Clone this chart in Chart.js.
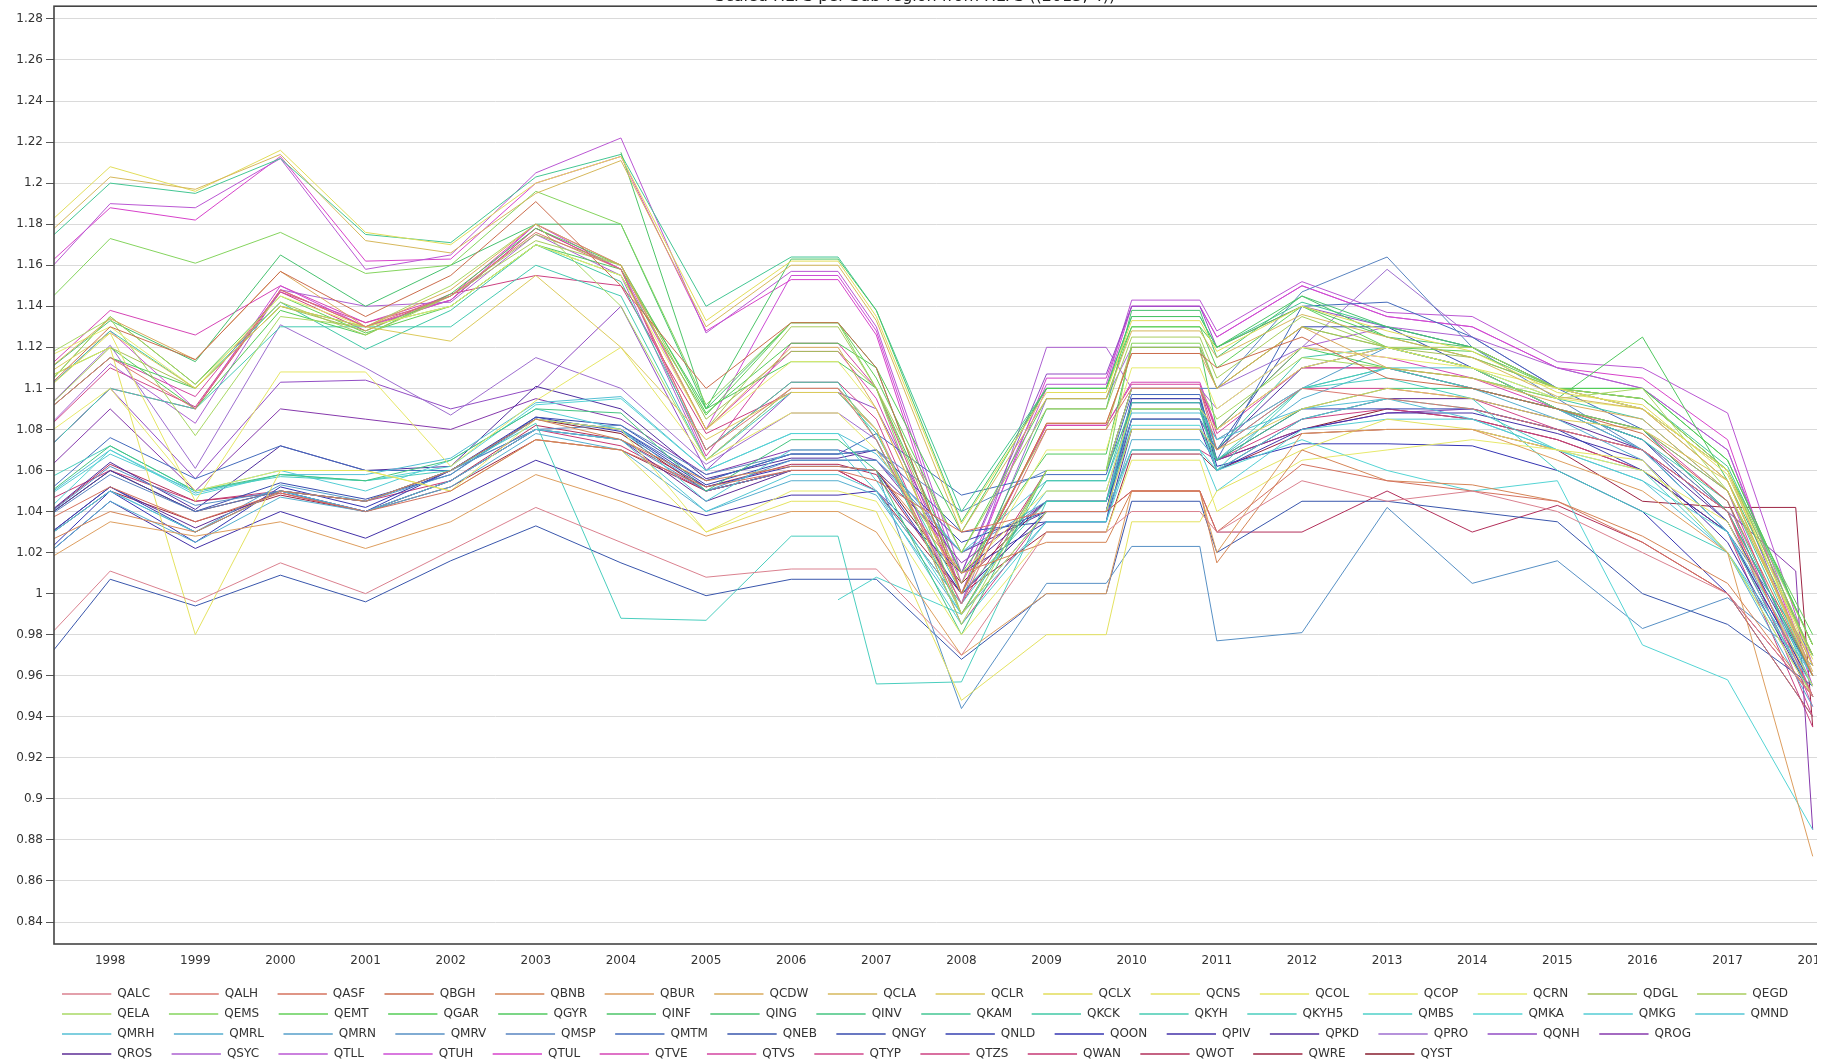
<!DOCTYPE html>
<html>
<head>
<meta charset="utf-8">
<script src="https://cdn.jsdelivr.net/npm/chart.js@4.4.1/dist/chart.umd.min.js"></script>
<style>
  html, body { margin: 0; padding: 0; background: #fff; overflow: hidden; }
  #clip { position: absolute; left: 0; top: -15px; width: 1817px; height: 1085px; overflow: hidden; }
  #box { position: relative; width: 1830px; height: 1085px; }
</style>
</head>
<body>
<div id="clip"><div id="box"><canvas id="myChart"></canvas></div></div>
<script>
var chartTitle = 'Scaled HLFS per Sub-region from HLFS ((2015, 4))';

// x positions of the samples (fractional ones are the mid-year steps)
var years = [1997, 1998, 1999, 2000, 2001, 2002, 2003, 2004, 2005, 2006, 2006.55, 2007, 2008,
             2009, 2009.7, 2010, 2010.8, 2011, 2012, 2013, 2014, 2015, 2016, 2017, 2017.8, 2018];
var xTickYears = [1998, 1999, 2000, 2001, 2002, 2003, 2004, 2005, 2006, 2007, 2008,
                  2009, 2010, 2011, 2012, 2013, 2014, 2015, 2016, 2017, 2018];
var yTickValues = [0.84, 0.86, 0.88, 0.9, 0.92, 0.94, 0.96, 0.98, 1, 1.02, 1.04, 1.06,
                   1.08, 1.1, 1.12, 1.14, 1.16, 1.18, 1.2, 1.22, 1.24, 1.26, 1.28];

var QALC = [0.967,1.011,0.996,1.015,1.000, 1.021,1.042,1.025,1.008,1.012, 1.012,1.012,0.970,1.030,1.030, 1.040,1.040,1.030,1.055,1.045, 1.050,1.040,1.020,1.000,null, 0.950];
var QALH = [1.080,1.115,1.090,1.148,1.130, 1.145,1.176,1.158,1.070,1.100, 1.100,1.075,0.995,1.080,1.080, 1.100,1.100,1.070,1.100,1.095, 1.090,1.080,1.070,1.040,null, 0.950];
var QASF = [1.030,1.052,1.035,1.049,1.040, 1.050,1.075,1.070,1.052,1.060, 1.060,1.055,1.030,1.040,1.040, 1.050,1.050,1.030,1.063,1.055, 1.050,1.045,1.025,1.000,null, 0.940];
var QBGH = [1.090,1.130,1.114,1.157,1.135, 1.155,1.191,1.150,1.100,1.132, 1.132,1.110,1.000,1.083,1.083, 1.117,1.117,1.110,1.125,1.105, 1.100,1.090,1.078,1.045,null, 0.960];
var QBNB = [1.020,1.040,1.030,1.050,1.045, 1.060,1.085,1.075,1.055,1.062, 1.062,1.060,1.010,1.025,1.025, 1.050,1.050,1.015,1.070,1.055, 1.053,1.045,1.028,1.005,null, 0.950];
var QBUR = [1.010,1.035,1.028,1.035,1.022, 1.035,1.058,1.045,1.028,1.040, 1.040,1.030,0.970,1.000,1.000, 1.050,1.050,1.020,1.078,1.080, 1.080,1.065,1.050,1.020,null, 0.872];
var QCDW = [1.100,1.134,1.114,1.157,1.130, 1.148,1.180,1.160,1.080,1.120, 1.120,1.090,1.000,1.083,1.083, 1.117,1.117,1.100,1.130,1.110, 1.105,1.093,1.085,1.050,null, 0.965];
var QCLA = [1.165,1.203,1.197,1.214,1.172, 1.166,1.195,1.211,1.130,1.160, 1.160,1.133,1.030,1.095,1.095, 1.128,1.128,1.115,1.136,1.125, 1.115,1.096,1.090,1.055,null, 0.962];
var QCLR = [1.100,1.127,1.100,1.140,1.130, 1.123,1.155,1.120,1.075,1.098, 1.098,1.080,0.990,1.040,1.040, 1.080,1.080,1.070,1.090,1.100, 1.095,1.085,1.080,1.055,null, 0.960];
var QCLX = [1.170,1.208,1.196,1.216,1.176, 1.170,1.200,1.213,1.133,1.162, 1.162,1.135,1.034,1.098,1.098, 1.133,1.133,1.118,1.140,1.128, 1.118,1.098,1.092,1.058,null, 0.968];
var QCNS = [1.100,1.120,0.980,1.060,1.060, 1.050,1.075,1.070,1.030,1.045, 1.045,1.040,0.948,0.980,0.980, 1.035,1.035,1.050,1.070,1.085, 1.080,1.070,1.065,1.020,null, 0.950];
var QCOL = [1.090,1.127,1.045,1.108,1.108, 1.062,1.094,1.120,1.065,1.088, 1.088,1.070,1.010,1.050,1.050, 1.090,1.090,1.080,1.110,1.120, 1.110,1.100,1.090,1.060,null, 0.965];
var QCOP = [1.070,1.100,1.050,1.060,1.060, 1.050,1.085,1.080,1.030,1.050, 1.050,1.045,0.980,1.030,1.030, 1.065,1.065,1.040,1.065,1.070, 1.075,1.070,1.060,1.035,null, 0.955];
var QCRN = [1.110,1.130,1.100,1.145,1.130, 1.140,1.170,1.155,1.080,1.113, 1.113,1.090,1.000,1.070,1.070, 1.110,1.110,1.090,1.120,1.115, 1.110,1.095,1.090,1.055,null, 0.960];
var QDGL = [1.080,1.120,1.100,1.140,1.128, 1.145,1.175,1.160,1.085,1.118, 1.118,1.100,1.005,1.080,1.080, 1.120,1.120,1.100,1.130,1.120, 1.115,1.100,1.090,1.060,null, 0.970];
var QEGD = [1.090,1.135,1.102,1.142,1.126, 1.145,1.172,1.160,1.080,1.130, 1.130,1.100,1.020,1.090,1.090, 1.125,1.125,1.105,1.135,1.120, 1.120,1.100,1.095,1.060,null, 0.975];
var QELA = [1.110,1.134,1.077,1.135,1.130, 1.150,1.180,1.140,1.065,1.100, 1.100,1.080,0.985,1.060,1.060, 1.100,1.100,1.085,1.115,1.110, 1.105,1.095,1.100,1.050,null, 0.965];
var QEMS = [1.131,1.173,1.161,1.176,1.156, 1.160,1.196,1.180,1.092,1.132, 1.132,1.100,0.990,1.060,1.060, 1.122,1.122,1.100,1.130,1.120, 1.110,1.090,1.080,1.050,null, 0.970];
var QEMT = [1.090,1.135,1.102,1.145,1.127, 1.140,1.170,1.155,1.087,1.132, 1.132,1.105,1.020,1.095,1.095, 1.130,1.130,1.110,1.140,1.120, 1.118,1.100,1.095,1.060,null, 0.980];
var QGAR = [1.100,1.120,1.090,1.138,1.126, 1.146,1.178,1.160,1.088,1.122, 1.122,1.110,1.030,1.100,1.100, 1.130,1.130,1.120,1.140,1.125, 1.115,1.100,1.100,1.065,null, 0.975];
var QGYR = [1.080,1.115,1.100,1.140,1.130, 1.140,1.170,1.158,1.090,1.113, 1.113,1.100,1.010,1.068,1.068, 1.120,1.120,1.080,1.120,1.110, 1.105,1.095,1.125,1.055,null, 0.970];
var QINF = [null,null,null,null,null, null,null,1.215,1.090,1.163, 1.163,1.138,1.035,1.100,1.100, 1.135,1.135,1.120,1.145,1.125, 1.120,1.100,1.100,1.065,null, 0.975];
var QING = [1.100,1.133,1.113,1.165,1.140, 1.160,1.180,1.180,1.090,1.132, 1.132,1.110,1.000,1.090,1.090, 1.138,1.138,1.115,1.145,1.130, 1.120,1.100,1.095,1.060,null, 0.970];
var QINV = [1.040,1.072,1.050,1.058,1.055, 1.065,1.090,1.088,1.050,1.075, 1.075,1.060,0.980,1.060,1.060, 1.090,1.090,1.065,1.090,1.100, 1.100,1.090,1.080,1.040,null, 0.960];
var QKAM = [1.162,1.200,1.195,1.212,1.175, 1.171,1.203,1.214,1.140,1.164, 1.164,1.138,1.040,1.100,1.100, 1.135,1.135,1.120,1.142,1.130, 1.120,1.100,1.095,1.062,null, 0.975];
var QKCK = [1.090,1.128,1.100,1.142,1.119, 1.138,1.170,1.152,1.070,1.103, 1.103,1.075,0.990,1.055,1.055, 1.093,1.093,1.070,1.115,1.120, 1.110,1.095,1.085,1.050,null, 0.960];
var QKYH = [1.060,1.100,1.090,1.130,1.130, 1.130,1.160,1.145,1.065,1.098, 1.098,1.078,1.000,1.045,1.045, 1.080,1.080,1.065,1.100,1.110, 1.100,1.090,1.075,1.045,null, 0.955];
var QKYH5 = [1.050,1.072,1.050,1.057,1.055, 1.060,1.083,0.988,0.987,1.028, 1.028,0.956,0.957,1.045,1.045, 1.090,1.090,1.060,1.100,1.105, 1.095,1.060,1.040,1.020,null, 0.950];
var QMBS = [null,null,null,null,null, null,null,null,null,null, 0.997,1.008,0.990,1.040,1.040, 1.070,1.070,1.060,1.085,1.095, 1.090,1.070,1.060,1.020,null, 0.955];
var QMKA = [1.030,1.070,1.048,1.058,1.055, 1.062,1.092,1.095,1.060,1.078, 1.078,1.055,0.990,1.040,1.040, 1.082,1.082,1.060,1.075,1.060, 1.050,1.055,0.975,0.958,null, 0.885];
var QMKG = [1.040,1.068,1.050,1.060,1.050, 1.065,1.090,1.080,1.045,1.070, 1.070,1.050,0.985,1.035,1.035, 1.070,1.070,1.050,1.080,1.085, 1.085,1.070,1.055,1.030,null, 0.950];
var QMND = [1.020,1.050,1.030,1.050,1.040, 1.055,1.080,1.075,1.040,1.058, 1.058,1.050,0.995,1.050,1.050, 1.090,1.090,1.075,1.100,1.110, 1.110,1.090,1.070,1.030,null, 0.960];
var QMRH = [1.040,1.070,1.049,1.058,1.058, 1.066,1.093,1.096,1.060,1.078, 1.078,1.068,1.020,1.055,1.055, 1.088,1.088,1.075,1.090,1.095, 1.085,1.070,1.055,1.020,null, 0.960];
var QMRL = [1.010,1.045,1.025,1.047,1.040, 1.052,1.078,1.070,1.040,1.055, 1.055,1.048,0.990,1.035,1.035, 1.075,1.075,1.065,1.095,1.110, 1.100,1.085,1.065,1.020,null, 0.945];
var QMRN = [1.020,1.050,1.030,1.053,1.045, 1.058,1.085,1.080,1.050,1.065, 1.065,1.065,1.020,1.045,1.045, 1.085,1.085,1.070,1.100,1.120, 1.110,1.090,1.075,1.040,null, 0.960];
var QMRV = [1.030,1.062,1.043,1.050,1.045, 1.060,1.080,1.075,1.050,1.060, 1.060,1.060,0.944,1.005,1.005, 1.023,1.023,0.977,0.981,1.042, 1.005,1.016,0.983,0.998,null, 0.965];
var QMSP = [1.030,1.058,1.040,1.050,1.045, 1.060,1.080,1.082,1.058,1.068, 1.068,1.070,1.040,1.060,1.060, 1.100,1.100,1.100,1.147,1.164, 1.120,1.095,1.070,1.030,null, 0.970];
var QMTM = [1.040,1.076,1.056,1.072,1.060, 1.060,1.085,1.080,1.055,1.068, 1.068,1.078,1.048,1.058,1.058, 1.097,1.097,1.065,1.140,1.142, 1.125,1.100,1.080,1.040,null, 0.960];
var QNEB = [0.955,1.007,0.994,1.009,0.996, 1.016,1.033,1.015,0.999,1.007, 1.007,1.007,0.968,1.000,1.000, 1.045,1.045,1.020,1.045,1.045, 1.040,1.035,1.000,0.985,null, 0.955];
var QNGY = [1.030,1.060,1.040,1.054,1.046, 1.058,1.086,1.082,1.055,1.068, 1.068,1.070,1.030,1.035,1.035, 1.095,1.095,1.070,1.130,1.130, 1.110,1.090,1.075,1.035,null, 0.960];
var QNLD = [1.020,1.052,1.030,1.050,1.040, 1.060,1.085,1.080,1.053,1.065, 1.065,1.065,1.025,1.040,1.040, 1.090,1.090,1.065,1.090,1.090, 1.090,1.080,1.060,1.030,null, 0.955];
var QOON = [1.010,1.050,1.025,1.052,1.042, 1.060,1.086,1.079,1.052,1.062, 1.062,1.060,1.000,1.040,1.040, 1.093,1.093,1.062,1.073,1.073, 1.072,1.060,1.040,1.000,null, 0.940];
var QPIV = [1.010,1.045,1.022,1.040,1.027, 1.045,1.065,1.050,1.038,1.048, 1.048,1.050,1.010,1.035,1.035, 1.080,1.080,1.060,1.080,1.088, 1.088,1.078,1.065,1.025,null, 0.950];
var QPKD = [1.030,1.064,1.041,1.072,1.060, 1.062,1.101,1.090,1.056,1.066, 1.066,1.070,1.010,1.045,1.045, 1.085,1.085,1.070,1.110,1.120, 1.110,1.090,1.070,1.030,null, 0.955];
var QPRO = [1.080,1.121,1.061,1.131,1.110, 1.087,1.115,1.100,1.063,1.088, 1.088,1.075,0.995,1.095,1.095, 1.120,1.120,1.100,1.120,1.158, 1.125,1.100,1.090,1.055,null, 0.960];
var QQNH = [1.060,1.100,1.056,1.103,1.104, 1.090,1.100,1.140,1.060,1.098, 1.098,1.090,1.010,1.107,1.107, 1.140,1.140,1.120,1.140,1.130, 1.120,1.100,1.090,1.060,null, 0.960];
var QROG = [1.050,1.090,1.050,1.090,1.085, 1.080,1.095,1.085,1.058,1.070, 1.070,1.065,1.015,1.045,1.045, 1.095,1.095,1.065,1.080,1.088, 1.090,1.080,1.070,1.040,1.011, 0.885];
var QROS = [1.020,1.052,1.032,1.050,1.040, 1.055,1.080,1.075,1.045,1.060, 1.060,1.060,1.020,1.040,1.040, 1.085,1.085,1.060,1.085,1.095, 1.095,1.085,1.070,1.035,null, 0.955];
var QSYC = [1.070,1.112,1.083,1.148,1.140, 1.142,1.175,1.155,1.065,1.100, 1.100,1.080,0.995,1.120,1.120, 1.100,1.100,1.090,1.120,1.130, 1.125,1.110,1.100,1.070,null, 0.965];
var QTLL = [1.145,1.190,1.188,1.212,1.158, 1.165,1.205,1.222,1.127,1.157, 1.157,1.130,1.010,1.102,1.102, 1.143,1.143,1.128,1.152,1.137, 1.135,1.113,1.110,1.088,null, 0.965];
var QTUH = [1.090,1.128,1.090,1.150,1.130, 1.143,1.180,1.158,1.080,1.155, 1.155,1.128,1.005,1.100,1.100, 1.140,1.140,1.125,1.150,1.135, 1.130,1.110,1.100,1.070,null, 0.960];
var QTUL = [1.150,1.188,1.182,1.213,1.162, 1.163,1.200,1.213,1.128,1.153, 1.153,1.126,1.000,1.105,1.105, 1.140,1.140,1.125,1.150,1.135, 1.130,1.110,1.105,1.075,null, 0.955];
var QTVE = [1.100,1.138,1.126,1.150,1.132, 1.145,1.180,1.160,1.080,1.118, 1.118,1.095,1.000,1.082,1.082, 1.103,1.103,1.080,1.120,1.115, 1.105,1.090,1.080,1.050,null, 0.950];
var QTVS = [1.080,1.115,1.096,1.147,1.132, 1.143,1.178,1.158,1.067,1.122, 1.122,1.100,1.000,1.082,1.082, 1.102,1.102,1.078,1.110,1.110, 1.100,1.090,1.080,1.045,null, 0.945];
var QTYP = [1.070,1.110,1.091,1.148,1.130, 1.143,1.178,1.158,1.070,1.103, 1.103,1.085,0.990,1.060,1.060, 1.100,1.100,1.075,1.100,1.100, 1.095,1.080,1.070,1.040,null, 0.940];
var QTZS = [1.060,1.100,1.090,1.147,1.128, 1.146,1.155,1.150,1.078,1.098, 1.098,1.080,0.985,1.040,1.040, 1.070,1.070,1.065,1.085,1.090, 1.085,1.075,1.060,1.030,null, 0.935];
var QWAN = [1.040,1.060,1.045,1.050,1.045, 1.055,1.080,1.072,1.050,1.060, 1.060,1.050,0.995,1.060,1.060, 1.100,1.100,1.080,1.110,1.110, 1.100,1.090,1.075,1.040,null, 0.950];
var QWOT = [1.030,1.063,1.045,1.049,1.040, 1.055,1.082,1.075,1.052,1.063, 1.063,1.058,1.000,1.040,1.040, 1.050,1.050,1.030,1.030,1.050, 1.030,1.043,1.025,1.000,null, 0.950];
var QWRE = [1.020,1.050,1.035,1.048,1.040, 1.052,1.075,1.070,1.050,1.060, 1.060,1.050,1.000,1.030,1.030, 1.068,1.068,1.060,1.078,1.080, 1.080,1.070,1.045,1.042,1.042, 0.935];
var QYST = [1.030,1.060,1.040,1.050,1.045, 1.060,1.085,1.078,1.050,1.060, 1.060,1.060,1.005,1.045,1.045, 1.080,1.080,1.065,1.080,1.090, 1.085,1.075,1.060,1.030,null, 0.950];

var seriesNames = ['QALC','QALH','QASF','QBGH','QBNB','QBUR','QCDW','QCLA','QCLR','QCLX','QCNS','QCOL',
  'QCOP','QCRN','QDGL','QEGD','QELA','QEMS','QEMT','QGAR','QGYR','QINF','QING','QINV','QKAM','QKCK',
  'QKYH','QKYH5','QMBS','QMKA','QMKG','QMND','QMRH','QMRL','QMRN','QMRV','QMSP','QMTM','QNEB','QNGY',
  'QNLD','QOON','QPIV','QPKD','QPRO','QQNH','QROG','QROS','QSYC','QTLL','QTUH','QTUL','QTVE','QTVS',
  'QTYP','QTZS','QWAN','QWOT','QWRE','QYST'];
var seriesValues = [QALC,QALH,QASF,QBGH,QBNB,QBUR,QCDW,QCLA,QCLR,QCLX,QCNS,QCOL,
  QCOP,QCRN,QDGL,QEGD,QELA,QEMS,QEMT,QGAR,QGYR,QINF,QING,QINV,QKAM,QKCK,
  QKYH,QKYH5,QMBS,QMKA,QMKG,QMND,QMRH,QMRL,QMRN,QMRV,QMSP,QMTM,QNEB,QNGY,
  QNLD,QOON,QPIV,QPKD,QPRO,QQNH,QROG,QROS,QSYC,QTLL,QTUH,QTUL,QTVE,QTVS,
  QTYP,QTZS,QWAN,QWOT,QWRE,QYST];

// rainbow palette: [index, hue, sat, light]
var colorStops = [
  [0, 350, 55, 68], [1, 365, 60, 65], [3, 375, 55, 55], [5, 390, 65, 62], [7, 405, 60, 60],
  [9, 418, 70, 62], [13, 422, 75, 68], [14, 435, 45, 55], [16, 445, 60, 62], [18, 475, 55, 58],
  [22, 500, 50, 52], [25, 525, 55, 52], [29, 540, 60, 58], [32, 550, 60, 58], [36, 575, 45, 55],
  [38, 585, 50, 45], [41, 600, 55, 45], [43, 618, 55, 40], [44, 630, 50, 62], [46, 640, 50, 45],
  [47, 628, 55, 38], [48, 640, 55, 60], [51, 665, 65, 55], [54, 690, 60, 55], [56, 695, 55, 50],
  [59, 710, 65, 32]
];
function colorAt(i) {
  for (var k = 0; k < colorStops.length - 1; k++) {
    var a = colorStops[k], b = colorStops[k + 1];
    if (i >= a[0] && i <= b[0]) {
      var t = (i - a[0]) / (b[0] - a[0]);
      var h = (a[1] + (b[1] - a[1]) * t) % 360;
      var s = a[2] + (b[2] - a[2]) * t;
      var l = a[3] + (b[3] - a[3]) * t;
      return 'hsl(' + h.toFixed(1) + ',' + s.toFixed(1) + '%,' + l.toFixed(1) + '%)';
    }
  }
  return '#888';
}

var datasets = seriesNames.map(function (name, i) {
  var c = colorAt(i);
  return {
    label: name,
    data: years.map(function (x, j) { return { x: x, y: seriesValues[i][j] }; }),
    borderColor: c,
    backgroundColor: c,
    borderWidth: 1,
    pointRadius: 0,
    tension: 0,
    spanGaps: true
  };
});

var plotFrame = {
  id: 'plotFrame',
  afterDatasetsDraw: function (chart) {
    var a = chart.chartArea, ctx = chart.ctx;
    ctx.save();
    ctx.strokeStyle = '#444';
    ctx.lineWidth = 1.6;
    ctx.strokeRect(a.left, a.top, a.right - a.left, a.bottom - a.top);
    ctx.restore();
  }
};

var tickFont = { family: 'DejaVu Sans', size: 12 };

var config = {
  type: 'line',
  data: { datasets: datasets },
  options: {
    animation: false,
    responsive: true,
    maintainAspectRatio: false,
    layout: { padding: 0 },
    plugins: {
      title: {
        display: true,
        text: chartTitle,
        color: '#222',
        font: { family: 'DejaVu Sans', size: 16, weight: 'normal' },
        padding: { top: 2, bottom: 0 }
      },
      legend: {
        position: 'bottom',
        align: 'start',
        fullSize: false,
        labels: {
          boxWidth: 49.3,
          boxHeight: 1.5,
          padding: 8,
          color: '#333',
          font: { family: 'DejaVu Sans', size: 12 },
          generateLabels: function (chart) {
            return chart.data.datasets.map(function (ds, i) {
              return {
                text: ds.label + '   ',
                fillStyle: ds.borderColor,
                strokeStyle: ds.borderColor,
                lineWidth: 0,
                fontColor: '#333',
                hidden: false,
                datasetIndex: i
              };
            });
          }
        }
      },
      tooltip: { enabled: false }
    },
    scales: {
      x: {
        type: 'linear',
        min: 1997.34,
        max: 2018.08,
        grid: { display: false },
        border: { display: false },
        ticks: {
          color: '#333',
          font: tickFont,
          padding: 2,
          maxRotation: 0,
          autoSkip: false,
          callback: function (v) { return String(v); }
        },
        afterBuildTicks: function (scale) {
          scale.ticks = xTickYears.map(function (v) { return { value: v }; });
        },
        afterFit: function (scale) { scale.height = 36; }
      },
      y: {
        type: 'linear',
        min: 0.8293,
        max: 1.2862,
        grid: { color: '#dadada', tickColor: '#555', tickLength: 8, lineWidth: 1 },
        border: { display: false },
        ticks: {
          color: '#333',
          font: tickFont,
          padding: 3,
          autoSkip: false,
          callback: function (v) { return String(parseFloat(Number(v).toFixed(2))); }
        },
        afterBuildTicks: function (scale) {
          scale.ticks = yTickValues.map(function (v) { return { value: v }; });
        },
        afterFit: function (scale) { scale.width = 54; }
      }
    }
  },
  plugins: [plotFrame]
};

var myChart = new Chart(document.getElementById('myChart'), config);
</script>
</body>
</html>
